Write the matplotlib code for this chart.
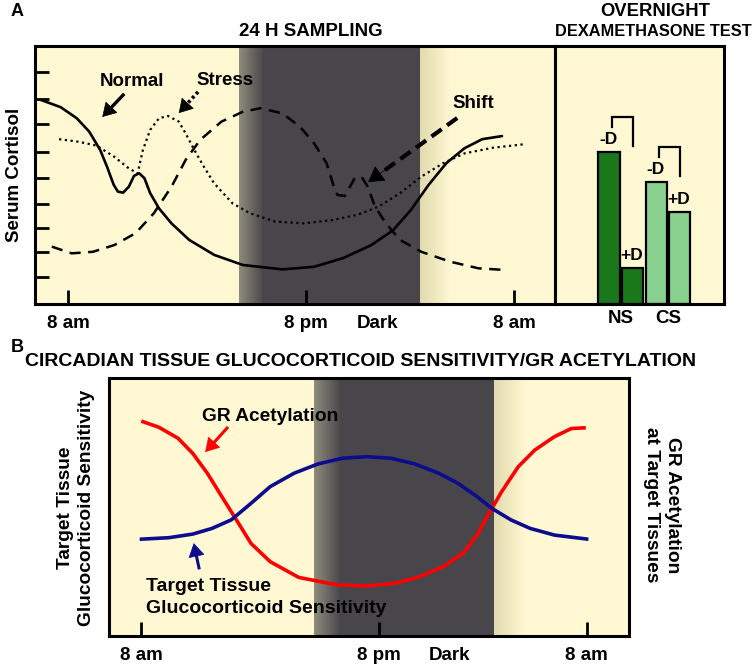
import numpy as np
import matplotlib
matplotlib.use('Agg')
import matplotlib.pyplot as plt
from matplotlib.colors import LinearSegmentedColormap

plt.rcParams['font.family'] = ['Liberation Sans', 'DejaVu Sans']
plt.rcParams['font.weight'] = 'bold'

CREAM = '#fff8d2'
DARK = '#48464a'

# ---- panel A: 24 h sampling (schematic time 0-100, cortisol 0-100) ----
time_ticks_a = [6.4, 52.2, 92.2]
time_labels = ['8 am', '8 pm', '8 am']
dark_label_a = 65.8
night_a = (39.3, 44.1, 74.0, 79.8)   # fade in, dark start, dark end, fade out
cortisol_ticks = [10.5, 20.1, 29.4, 38.7, 48.8, 58.8, 69.7, 79.4, 89.8]

normal_x = [1.2, 5.0, 8.1, 10.5, 12.6, 13.9, 15.2, 16.0, 17.0, 18.1, 19.1, 20.1, 21.1, 22.2,
            23.9, 26.3, 29.7, 34.5, 40.0, 47.6, 53.7, 59.2, 64.7, 68.9, 72.3, 75.7, 79.1,
            82.6, 86.0, 89.8]
normal_y = [79.0, 76.2, 71.9, 66.7, 59.6, 53.2, 46.1, 43.5, 43.1, 45.4, 49.6, 50.6, 48.7, 42.9,
            37.0, 31.2, 24.8, 19.0, 15.1, 13.4, 14.4, 17.7, 22.8, 28.6, 36.4, 46.1, 54.5,
            60.3, 63.8, 65.0]

stress_x = [4.7, 8.5, 11.9, 15.3, 18.1, 19.8, 20.8, 22.2, 23.9, 25.6, 27.7, 29.0, 30.7, 32.5,
            34.5, 38.0, 41.4, 46.2, 51.7, 57.2, 62.0, 66.1, 70.2, 74.3, 78.5, 82.6, 88.1, 93.9]
stress_y = [63.8, 62.8, 61.3, 57.0, 52.5, 50.6, 59.6, 67.4, 71.9, 72.8, 70.6, 66.1, 59.6, 53.2,
            46.7, 39.0, 35.1, 31.9, 31.2, 32.5, 34.5, 37.7, 42.9, 49.3, 54.5, 58.3, 60.5, 61.8]

shift_x = [3.3, 7.1, 11.2, 15.3, 19.4, 22.9, 26.3, 29.0, 31.8, 35.9, 40.0, 43.4, 47.6, 51.0,
           53.7, 56.1, 57.5, 58.2, 59.6, 60.6, 61.6, 63.0, 64.0, 65.4, 67.5, 70.2, 74.3, 79.8,
           85.3, 90.1]
shift_y = [22.2, 19.6, 20.2, 22.8, 27.4, 35.1, 45.4, 55.7, 63.5, 70.6, 74.4, 75.8, 73.8, 68.6,
           62.2, 54.5, 45.4, 42.2, 41.8, 45.4, 49.1, 48.7, 45.4, 37.7, 31.2, 24.8, 20.2, 16.4,
           13.8, 13.2]

# overnight dexamethasone test
bar_x = [32.0, 45.9, 60.1, 73.7]
bar_h = [58.8, 13.9, 47.2, 35.6]
bar_lab = ['-D', '+D', '-D', '+D']
bar_col = ['#1a781a', '#1a781a', '#88d18e', '#88d18e']
group_x = [39.0, 67.0]
group_lab = ['NS', 'CS']

# ---- panel B: circadian sensitivity / GR acetylation ----
time_ticks_b = [6.2, 51.9, 91.9]
dark_label_b = 65.4
night_b = (39.5, 44.6, 74.0, 80.0)

gr_x = [6.2, 9.6, 13.3, 16.1, 18.9, 21.7, 24.5, 27.3, 31.0, 36.5, 43.9, 49.5, 55.1, 59.7,
        64.3, 68.1, 70.8, 72.7, 75.5, 78.7, 81.9, 85.7, 88.9, 91.7]
gr_y = [83.3, 80.9, 76.6, 70.8, 63.1, 54.0, 45.0, 35.9, 28.8, 22.7, 19.8, 19.4, 20.4, 23.0,
        26.9, 32.1, 39.1, 46.2, 55.9, 65.6, 72.1, 77.3, 80.4, 80.7]

sens_x = [5.9, 11.5, 16.1, 19.8, 23.5, 27.3, 31.0, 35.6, 40.2, 44.9, 49.5, 54.2, 58.8, 63.4,
          67.1, 70.8, 73.6, 77.3, 81.0, 85.7, 92.2]
sens_y = [37.5, 38.1, 39.5, 41.7, 45.0, 51.4, 57.9, 63.1, 66.7, 68.9, 69.5, 68.9, 66.7, 63.1,
          59.2, 54.0, 49.5, 45.0, 41.7, 39.1, 37.5]


def shade_night(ax, night):
    fade_in, d0, d1, fade_out = night
    ax.set_facecolor(CREAM)
    ax.axvspan(d0, d1, color=DARK, lw=0, zorder=0.2)
    grad = np.linspace(0, 1, 64)[None, :]
    cm_in = LinearSegmentedColormap.from_list('fin', ['#8e8c7c', DARK])
    cm_out = LinearSegmentedColormap.from_list('fout', ['#e2daae', CREAM])
    ax.imshow(grad, extent=[fade_in, d0, 0, 100], cmap=cm_in, aspect='auto', zorder=0.2)
    ax.imshow(grad, extent=[d1, fade_out, 0, 100], cmap=cm_out, aspect='auto', zorder=0.2)
    ax.set_xlim(0, 100)
    ax.set_ylim(0, 100)


def style_box(ax):
    for s in ax.spines.values():
        s.set_linewidth(2.2)
    ax.tick_params(direction='in', length=10, width=2, labelsize=13.5, pad=8)


def arrow_head(ax, start, tip, color, size=18):
    back = (tip[0] - 0.2 * (tip[0] - start[0]), tip[1] - 0.2 * (tip[1] - start[1]))
    ax.annotate('', xy=tip, xytext=back,
                arrowprops=dict(arrowstyle='-|>,head_length=0.5,head_width=0.3',
                                color=color, lw=0.5, shrinkA=0, shrinkB=0, mutation_scale=size))


fig = plt.figure(figsize=(7.56, 6.65), dpi=100)

# ---------- A left ----------
ax = fig.add_axes([0.0458, 0.5429, 0.6884, 0.3884])
shade_night(ax, night_a)
style_box(ax)
ax.plot(normal_x, normal_y, color='k', lw=1.9, solid_capstyle='round', zorder=3)
ax.plot(stress_x, stress_y, color='k', lw=1.6, ls=(0, (1, 1.6)), zorder=3)
ax.plot(shift_x, shift_y, color='k', lw=1.8, ls=(0, (4.5, 3)), zorder=3)
ax.set_xticks(time_ticks_a, time_labels)
ax.set_yticks(cortisol_ticks, [])
ax.text(dark_label_a, -7.5, 'Dark', ha='center', va='center', fontsize=13.5)

# arrows + curve labels
arrow_head(ax, (17.0, 80.9), (13.0, 72.4), 'k')
ax.plot([17.0, 13.8], [80.9, 74.1], color='k', lw=2.4)
ax.text(18.7, 86.3, 'Normal', ha='center', va='center', fontsize=13.5)
ax.plot([31.4, 28.4], [82.1, 75.5], color='k', lw=2.6, ls=(0, (0.8, 0.8)))
arrow_head(ax, (31.4, 82.1), (27.7, 73.9), 'k')
ax.text(36.6, 86.7, 'Stress', ha='center', va='center', fontsize=13.5)
ax.plot([81.2, 65.5], [72.0, 49.2], color='k', lw=3.0, ls=(0, (3, 1.6)))
arrow_head(ax, (81.2, 72.0), (64.1, 47.2), 'k', size=20)
ax.text(84.3, 77.8, 'Shift', ha='center', va='center', fontsize=13.5)

# ---------- A right ----------
ax2 = fig.add_axes([0.7341, 0.5429, 0.2235, 0.3884])
ax2.set_facecolor(CREAM)
ax2.set_xlim(0, 100)
ax2.set_ylim(0, 100)
for s in ax2.spines.values():
    s.set_linewidth(2.2)
ax2.bar(bar_x, bar_h, width=12.8, color=bar_col, edgecolor='k', lw=1.6, zorder=2)
for xx, hh, lab in zip(bar_x, bar_h, bar_lab):
    ax2.text(xx - 0.5, hh + 4.7, lab, ha='center', va='center', fontsize=12.5)
for i in (0, 2):
    top = bar_h[i]
    xl, xr = bar_x[i] + 1.7, bar_x[i + 1]
    ax2.plot([xl, xl, xr, xr], [top + 9.7, top + 13.6, top + 13.6, top + 2.2],
             color='k', lw=1.6, solid_joinstyle='miter')
ax2.set_xticks(group_x, group_lab)
ax2.set_yticks([])
ax2.tick_params(axis='x', length=0, labelsize=13.5, pad=4)

fig.text(0.0135, 0.982, 'A', fontsize=13, ha='left', va='center')
fig.text(15 / 756, 1 - 175 / 665, 'Serum Cortisol', rotation=90, fontsize=13.5,
         ha='center', va='center')
fig.text(311 / 756, 1 - 31 / 665, '24 H SAMPLING', fontsize=13.5, ha='center', va='center')
fig.text(655 / 756, 1 - 12 / 665, 'OVERNIGHT', fontsize=13.3, ha='center', va='center')
fig.text(653 / 756, 1 - 32 / 665, 'DEXAMETHASONE TEST', fontsize=11.8, ha='center', va='center')

# ---------- B ----------
bx = fig.add_axes([0.1442, 0.0436, 0.6878, 0.388])
shade_night(bx, night_b)
style_box(bx)
bx.plot(gr_x, gr_y, color='#ff0000', lw=2.6, solid_capstyle='butt', zorder=3)
bx.plot(sens_x, sens_y, color='#0c0c8c', lw=2.6, solid_capstyle='butt', zorder=3)
bx.set_xticks(time_ticks_b, time_labels)
bx.set_yticks([])
bx.text(dark_label_b, -7.5, 'Dark', ha='center', va='center', fontsize=13.5)

bx.plot([22.7, 19.3], [80.6, 73.0], color='#ff0000', lw=2.2)
arrow_head(bx, (22.7, 80.6), (18.5, 71.3), '#ff0000')
bx.text(17.9, 84.9, 'GR Acetylation', ha='left', va='center', fontsize=13.8)
bx.plot([17.3, 16.5], [26.4, 34.0], color='#0c0c8c', lw=2.2)
arrow_head(bx, (17.3, 26.4), (16.3, 36.0), '#0c0c8c')
bx.text(7.1, 14.8, 'Target Tissue\nGlucocorticoid Sensitivity', ha='left', va='center',
        fontsize=14, linespacing=1.4)

fig.text(76 / 756, 1 - 508 / 665, 'Target Tissue\nGlucocorticoid Sensitivity', rotation=90,
         ha='center', va='center', fontsize=13.8, linespacing=1.3)
fig.text(662 / 756, 1 - 505 / 665, 'GR Acetylation\nat Target Tissues', rotation=270,
         ha='center', va='center', fontsize=13.8, linespacing=1.3)
fig.text(0.014, 1 - 347 / 665, 'B', fontsize=13, ha='left', va='center')
fig.text(25 / 756, 1 - 362 / 665, 'CIRCADIAN TISSUE GLUCOCORTICOID SENSITIVITY/GR ACETYLATION',
         fontsize=14, ha='left', va='center')

fig.savefig('out.png', dpi=100)
